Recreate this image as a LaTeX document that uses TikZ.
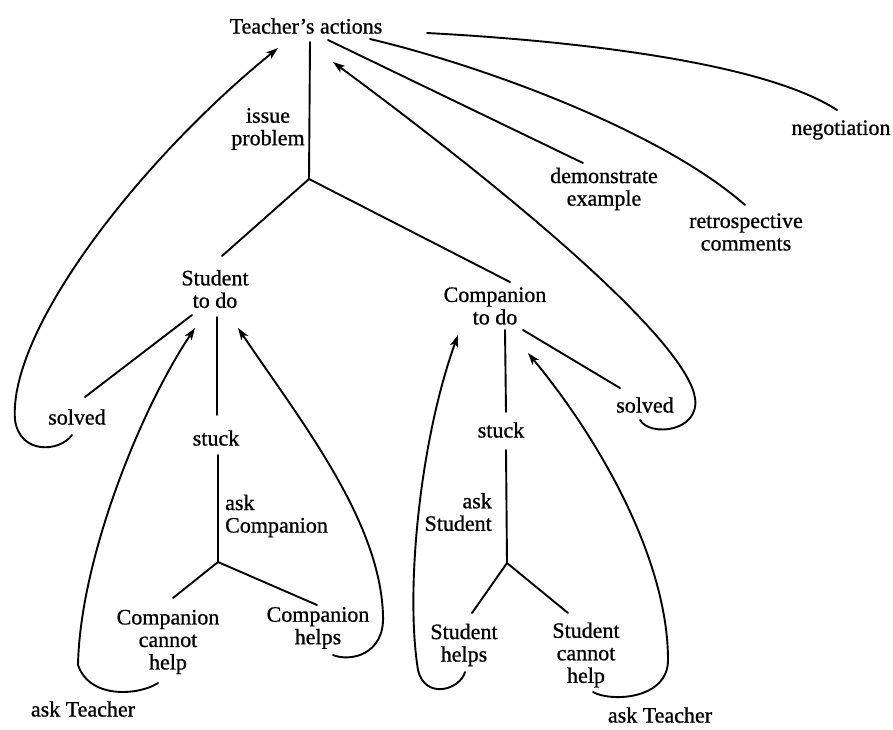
\documentclass[tikz,border=0pt]{standalone}
\usepackage{fontspec}
\setmainfont{Liberation Serif}[FakeBold=0.8]
\usetikzlibrary{arrows.meta}
\begin{document}
\begin{tikzpicture}[x=1pt,y=-1pt,
  lbl/.style={inner sep=0pt, align=center, font=\fontsize{22}{22.5}\selectfont},
  con/.style={line width=1.9pt, line cap=round, line join=round},
  arr/.style={con, -{Stealth[length=12pt,width=8pt,inset=3pt]}}]
\fill[white] (0,0) rectangle (893,729);
\useasboundingbox (0,0) rectangle (893,729);
% text nodes
\node[lbl] (ta) at (306,26) {Teacher's actions};
\node[lbl] (ip) at (268,129) {issue\\problem};
\node[lbl] (demo) at (604,189) {demonstrate\\example};
\node[lbl] (retro) at (746,232) {retrospective\\comments};
\node[lbl] (nego) at (841,130) {negotiation};
\node[lbl] (std) at (215,289) {Student\\to do};
\node[lbl] (ctd) at (495,306) {Companion\\to do};
\node[lbl] (solL) at (77,417) {solved};
\node[lbl] (stuckL) at (216,438) {stuck};
\node[lbl, align=left, anchor=west] (askC) at (225,516) {ask\\Companion};
\node[lbl] (cch) at (168,642) {Companion\\cannot\\help};
\node[lbl] (chl) at (318,628) {Companion\\helps};
\node[lbl] (atL) at (83,709) {ask Teacher};
\node[lbl] (solR) at (645,405) {solved};
\node[lbl] (stuckR) at (501,430) {stuck};
\node[lbl, align=right, anchor=east] (askS) at (492,512) {ask\\Student};
\node[lbl] (shl) at (464,645) {Student\\helps};
\node[lbl] (sch) at (586,655) {Student\\cannot\\help};
\node[lbl] (atR) at (660,715) {ask Teacher};
% junctions
\coordinate (j1) at (309,179);
\coordinate (j2) at (218,562);
\coordinate (j3) at (507,563);
% top tree
\draw[con] ([shift={(4,16)}]ta.center) -- (j1);
\draw[con] (j1) -- ([shift={(7,-33)}]std.center);
\draw[con] (j1) -- ([shift={(15,-24)}]ctd.center);
\draw[con] ([shift={(22,14)}]ta.center) -- ([shift={(-21,-26)}]demo.center);
\draw[con] ([shift={(64,13)}]ta.center) .. controls (480,65) and (660,130) .. ([shift={(-1,-27)}]retro.center);
\draw[con] ([shift={(121,7)}]ta.center) .. controls (560,40) and (760,60) .. ([shift={(-4,-20)}]nego.center);
% big return arrows to teacher
\draw[arr] ([shift={(-5,18)}]solL.center) .. controls (60,452) and (20,455) .. (15,420)
   .. controls (8,330) and (140,160) .. ([shift={(-28,22)}]ta.center);
\draw[arr] ([shift={(-5,15)}]solR.center) .. controls (650,437) and (700,432) .. (695,398)
   .. controls (688,350) and (560,230) .. ([shift={(27,36)}]ta.center);
% student subtree
\draw[con] ([shift={(8,-20)}]solL.center) -- ([shift={(-23,26)}]std.center);
\draw[con] ([shift={(2,28)}]std.center) -- ([shift={(1,-23)}]stuckL.center);
\draw[con] ([shift={(2,17)}]stuckL.center) -- (j2);
\draw[con] (j2) -- ([shift={(5,-44)}]cch.center);
\draw[con] (j2) -- ([shift={(-1,-23)}]chl.center);
\draw[arr] ([shift={(-10,41)}]cch.center) .. controls (140,695) and (90,700) .. (78,665)
   .. controls (80,560) and (140,410) .. ([shift={(-20,39)}]std.center);
\draw[arr] ([shift={(15,27)}]chl.center) .. controls (350,662) and (385,655) .. (383,615)
   .. controls (380,520) and (300,420) .. ([shift={(23,39)}]std.center);
% companion subtree
\draw[con] ([shift={(10,24)}]ctd.center) -- ([shift={(5,-18)}]stuckR.center);
\draw[con] ([shift={(5,20)}]stuckR.center) -- (j3);
\draw[con] ([shift={(28,24)}]ctd.center) -- ([shift={(-25,-17)}]solR.center);
\draw[con] (j3) -- ([shift={(8,-32)}]shl.center);
\draw[con] (j3) -- ([shift={(-18,-42)}]sch.center);
\draw[arr] ([shift={(1,27)}]shl.center) .. controls (460,690) and (425,700) .. (418,670)
   .. controls (405,590) and (420,440) .. ([shift={(-37,29)}]ctd.center);
\draw[arr] ([shift={(7,37)}]sch.center) .. controls (610,702) and (668,700) .. (668,660)
   .. controls (668,560) and (600,440) .. ([shift={(33,47)}]ctd.center);
\end{tikzpicture}
\end{document}
